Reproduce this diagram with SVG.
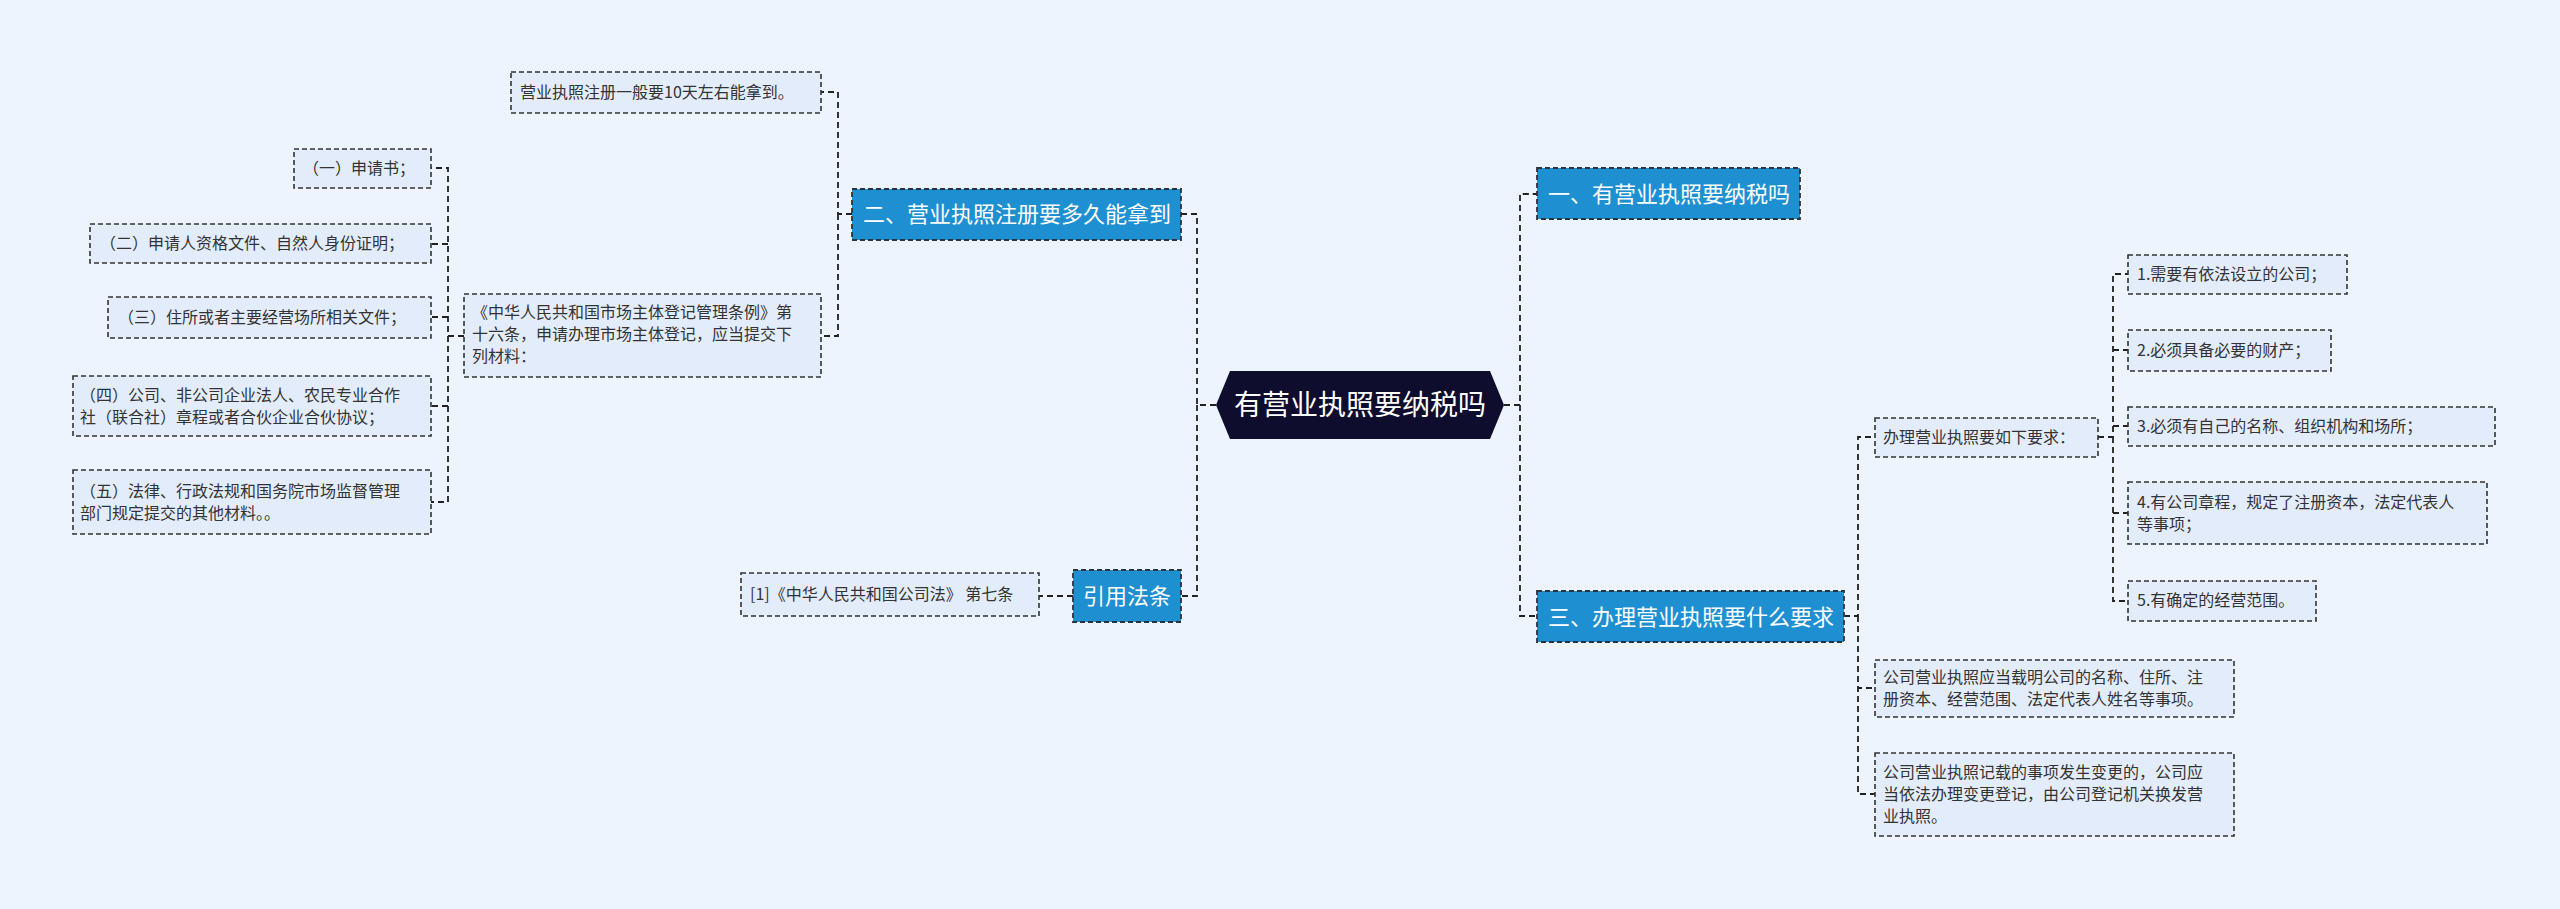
<svg xmlns="http://www.w3.org/2000/svg" width="2560" height="909" viewBox="0 0 2560 909">
<style>
text{font-family:"Noto Sans CJK SC","Noto Sans",sans-serif;}
.leaf rect{fill:#e3ecfb;stroke:#333;stroke-width:1.6;stroke-dasharray:5,3}
.leaf text{font-size:16px;fill:#333}
.br rect{fill:#1e90d2;stroke:#2a3340;stroke-width:1.8;stroke-dasharray:5,3}
.br text{font-size:22px;fill:#fff}
.c path{fill:none;stroke:#222;stroke-width:1.8;stroke-dasharray:6,4}
</style>
<rect width="2560" height="909" fill="#eef4fe"/>
<g class="c">
<path d="M1504 405H1520V194Q1520 194 1537 194"/>
<path d="M1520 405V616H1537"/>
<path d="M1216 405H1197V214H1181"/>
<path d="M1197 405V596H1181"/>
<path d="M1073 596H1039"/>
<path d="M852 214H838V92H821"/>
<path d="M838 214V336H821"/>
<path d="M464 336H448V168H431"/>
<path d="M448 244H431M448 317H431M448 406H431M448 336V502H431"/>
<path d="M1844 616H1858V437H1875"/>
<path d="M1858 616V688H1875M1858 616V794H1875"/>
<path d="M2098 437H2113V274H2128"/>
<path d="M2113 350H2128M2113 426H2128M2113 437V601H2128M2113 513H2128"/>
</g>
<g id="center">
<polygon points="1230,371 1490,371 1504,405 1490,439 1230,439 1216,405" fill="#0f0d2e"/>
<text x="1360" y="415" font-size="28" fill="#fff" text-anchor="middle">有营业执照要纳税吗</text>
</g>
<g id="b1" class="br"><rect x="1537" y="168" width="263" height="51"/><text x="1548" y="202">一、有营业执照要纳税吗</text></g>
<g id="b3" class="br"><rect x="1537" y="591" width="307" height="51"/><text x="1548" y="625">三、办理营业执照要什么要求</text></g>
<g id="b2" class="br"><rect x="852" y="189" width="329" height="51"/><text x="863" y="222">二、营业执照注册要多久能拿到</text></g>
<g id="b4" class="br"><rect x="1073" y="570" width="108" height="52"/><text x="1083" y="604">引用法条</text></g>
<g id="l1" class="leaf"><rect x="511" y="72" width="310" height="41"/><text x="520" y="98">营业执照注册一般要10天左右能拿到。</text></g>
<g id="l2" class="leaf"><rect x="464" y="294" width="357" height="83"/><text x="472" y="318">《中华人民共和国市场主体登记管理条例》第</text><text x="472" y="340">十六条，申请办理市场主体登记，应当提交下</text><text x="472" y="362">列材料：</text></g>
<g id="l3" class="leaf"><rect x="294" y="149" width="137" height="39"/><text x="303" y="174">（一）申请书；</text></g>
<g id="l4" class="leaf"><rect x="90" y="224" width="341" height="39"/><text x="100" y="249">（二）申请人资格文件、自然人身份证明；</text></g>
<g id="l5" class="leaf"><rect x="108" y="297" width="323" height="41"/><text x="118" y="323">（三）住所或者主要经营场所相关文件；</text></g>
<g id="l6" class="leaf"><rect x="73" y="376" width="358" height="60"/><text x="80" y="401">（四）公司、非公司企业法人、农民专业合作</text><text x="80" y="423">社（联合社）章程或者合伙企业合伙协议；</text></g>
<g id="l7" class="leaf"><rect x="73" y="470" width="358" height="64"/><text x="80" y="497">（五）法律、行政法规和国务院市场监督管理</text><text x="80" y="519">部门规定提交的其他材料。。</text></g>
<g id="l8" class="leaf"><rect x="741" y="573" width="298" height="43"/><text x="750" y="600">[1]《中华人民共和国公司法》 第七条</text></g>
<g id="l9" class="leaf"><rect x="1875" y="418" width="223" height="39"/><text x="1883" y="443">办理营业执照要如下要求：</text></g>
<g id="l10" class="leaf"><rect x="2128" y="255" width="219" height="39"/><text x="2137" y="280">1.需要有依法设立的公司；</text></g>
<g id="l11" class="leaf"><rect x="2128" y="330" width="203" height="41"/><text x="2137" y="356">2.必须具备必要的财产；</text></g>
<g id="l12" class="leaf"><rect x="2128" y="407" width="367" height="39"/><text x="2137" y="432">3.必须有自己的名称、组织机构和场所；</text></g>
<g id="l13" class="leaf"><rect x="2128" y="482" width="359" height="62"/><text x="2137" y="508">4.有公司章程，规定了注册资本，法定代表人</text><text x="2137" y="530">等事项；</text></g>
<g id="l14" class="leaf"><rect x="2128" y="581" width="188" height="40"/><text x="2137" y="606">5.有确定的经营范围。</text></g>
<g id="l15" class="leaf"><rect x="1875" y="660" width="359" height="57"/><text x="1883" y="683">公司营业执照应当载明公司的名称、住所、注</text><text x="1883" y="705">册资本、经营范围、法定代表人姓名等事项。</text></g>
<g id="l16" class="leaf"><rect x="1875" y="753" width="359" height="83"/><text x="1883" y="778">公司营业执照记载的事项发生变更的，公司应</text><text x="1883" y="800">当依法办理变更登记，由公司登记机关换发营</text><text x="1883" y="822">业执照。</text></g>
</svg>
